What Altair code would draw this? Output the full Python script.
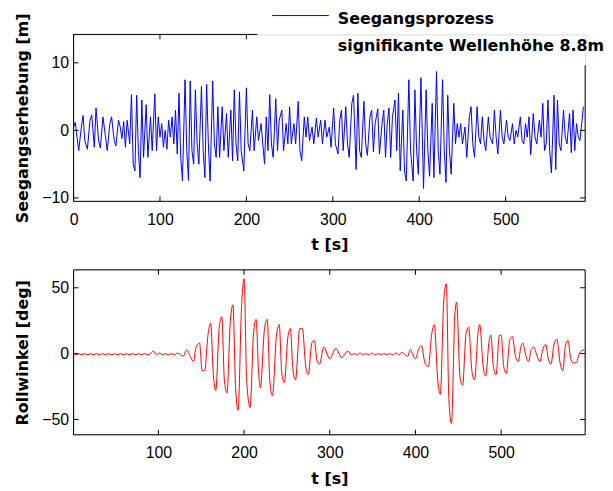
import altair as alt

# ---------------- data ----------------
wave_points = [
    (0, 0.5), (2, 1.2), (4, -1), (6, -3), (9, 0.5), (11, 2.2), (13, -1.5), (16, -2.8), (19, 1.5), (21, 2.3),
    (24, -2.5), (26, 3.3), (29, -1.5), (31, -2.6), (34, 2.0), (37, -1), (39, -3), (42, 1.0), (44, 2.0), (47, -1.5),
    (49, -2.3), (52, 1.5), (54, 0.5), (56, -1.2), (58, 1.3), (60, -2.5), (62, 1.5),
    (65, -2), (67, 5.3), (69, -5), (71, -6), (73, 5.2), (75, -3), (77, -7), (79, 4.5), (81, -4), (84, 3.8),
    (86, -4), (89, 2), (91, -3), (94, 5.4), (96, -3),
    (98, 2), (100, -1), (102, 1), (104, -2.5), (106, 0), (108, -2.8), (110, 1.5), (112, -1), (114, 2), (116, -2),
    (118, 3), (120, -3.5),
    (122, 5.5), (124, -4), (126, -7.5), (129, 7.5), (131, -3), (133, -7.4), (135, 7.3), (137, -3), (139, -5),
    (141, 6), (143, -2), (145, -5), (148, 6.5), (150, -3), (152, -7), (154, 6.8), (156, -2), (158, -7.5),
    (161, 7.3), (163, -2), (165, -4), (167, 3.5),
    (169, -4), (172, 3.5), (174, -3), (177, 2.5), (179, -4), (182, 3), (184, -4.5), (186, 6), (188, -2),
    (190, -4.5), (192, 5.7), (194, -3), (197, -6), (200, 6.3), (202, -2), (204, -3), (207, 3), (209, -3),
    (212, 2), (214, -1.5), (217, 1), (219, -2), (221, -5),
    (223, 2), (225, -3), (227, 5.3), (229, -2), (231, -4), (234, 4.7), (236, -3), (238, 1.5), (241, 3),
    (243, -3), (246, 1), (248, -2), (250, 3.5), (252, -2), (255, 1), (257, -2), (260, 4.3), (262, -3),
    (264, -4.5), (267, 2),
    (269, -1), (271, 2), (273, -1.5), (276, 0.5), (278, -2), (281, 1.8), (283, -1), (286, 1.5), (288, -2),
    (291, 1.5), (293, -1), (296, 0.5), (298, -2.5),
    (301, 3.3), (303, -2), (306, -3.5), (308, 1.5), (310, 3), (312, -3), (315, 3.5), (317, -2), (319, -4),
    (322, 4), (324, 5.2), (327, -5.8), (329, 5.5), (331, -3), (333, -4), (336, 4.3), (338, -2), (340, -3.7),
    (343, 2), (345, 3), (347, -3.2), (349, 1), (352, 3.2), (354, -3.5),
    (357, 1), (359, 3), (361, -4), (363, 1), (365, 3.3), (367, -4), (369, 2), (372, 4.5), (374, -3),
    (376, 5.5), (378, -6), (381, 3), (383, -6), (385, -7.5), (388, 7.5), (390, -3), (393, -7.5), (395, 6),
    (397, -3), (399, -6.5), (402, 7.8), (404, -3), (405, -8.6), (408, 6), (410, -3), (412, -6.8), (415, 4),
    (417, -7), (420, 8.7), (422, -3), (424, -6.5), (427, 7.5), (429, -3), (431, -7.7), (433, 5.2), (435, -3),
    (437, -6.5), (440, 4), (442, -2),
    (444, 1), (446, -1), (448, 1), (450, -2), (453, 0.5), (455, -4), (458, 2), (460, 3.5), (462, -2),
    (464, -4), (467, 3.5), (469, -1), (471, -2), (473, 2), (475, -1.5), (477, -3), (480, 2), (482, -1),
    (485, -2), (487, 3), (489, -1), (491, -3.5), (494, 3), (496, -1), (498, -2), (501, 1.5), (503, -1),
    (505, -1.5), (508, 1), (510, -2), (512, 0), (514, -1), (517, 2), (519, -1.5), (521, -2), (523, 1),
    (525, -1), (527, 2), (529, -3.6), (532, 2.5), (534, -1), (536, -2), (539, 1.5), (541, -1), (543, 4),
    (545, -3), (547, -2), (549, 4.5), (551, -3), (553, -6.3), (556, 5.2), (558, -5.8), (560, 4.5), (562, -2),
    (564, -3), (567, 3), (569, -1), (571, -2), (574, 2.5), (576, -3.3), (578, 3), (580, -3), (582, 1),
    (584, -1), (586, -1.5), (588, 1), (590, 3.5),
]

roll_points = [
    (1, 1), (3, -1), (7, 0), (10, -1), (14, 0), (17, -1), (21, 0), (24, -1), (28, 0), (31, -1), (35, 0),
    (38, -1), (42, 0), (45, -1), (49, 0), (52, -1), (56, 0), (59, -1), (63, 0), (66, -1), (70, 0), (73, -1),
    (77, 0), (80, -1), (84, 0), (87, -1), (91, 0), (94, 2), (98, -1), (101, 0.5), (105, -1), (108, 0),
    (112, -1), (115, 0), (119, -1), (122, 0.5), (126, -1), (129, -2), (133, 3), (137, -2), (141, -6),
    (144, 5), (148, 8), (151, -13), (154, -13), (158, 15), (161, 23), (164, -15), (167, -28), (171, 20),
    (174, 28), (177, -20), (180, -30), (184, 25), (187, 37), (190, -25), (193, -43), (197, 35), (200, 57),
    (203, -20), (207, -41), (211, 15), (214, 26), (217, -15), (219, -26), (224, 20), (227, 26), (230, -20),
    (233, -32), (238, 15), (241, 22), (244, -15), (247, -22), (251, 12), (254, 19), (257, -12), (260, -20),
    (265, 19), (268, 19), (272, -10), (275, -16), (279, 8), (282, 10), (285, -5), (288, -8), (293, 5),
    (300, -4), (307, 4), (314, -3), (321, 2), (325, -1), (328, 0), (332, -1), (335, 0.5), (339, -1),
    (342, 0), (346, -1), (349, 0.5), (353, -1), (356, 0), (360, -1), (363, 0), (367, -1), (370, 0),
    (374, -1), (377, 0.5), (381, -1), (384, 1), (388, -1), (391, -2), (394, 3), (397, -1), (400, -4),
    (404, 4), (407, 6), (411, -7), (415, -10), (419, 15), (422, 22), (426, -20), (429, -31), (433, 40),
    (436, 53), (439, -35), (442, -53), (446, 30), (448, 39), (452, -18), (455, -24), (459, 15), (462, 20),
    (466, -14), (469, -20), (473, 16), (475, 22), (479, -10), (482, -17), (486, 10), (488, 14), (491, -10),
    (494, -16), (498, 14), (500, 14), (503, -10), (506, -15), (510, 10), (513, 13), (517, -3), (520, -6),
    (523, 5), (525, 8), (529, -2), (532, -6), (535, 3), (538, 5), (542, -2), (545, -6), (549, 4), (552, 7),
    (555, -4), (558, -8), (562, 8), (565, 11), (569, -8), (572, -13), (575, 6), (578, 10), (581, -3),
    (584, -7), (588, -7), (591, 0), (597, 3),
]

top_xticks = [0, 100, 200, 300, 400, 500]
top_yticks = [-10, 0, 10]
bottom_xticks = [100, 200, 300, 400, 500]
bottom_yticks = [-50, 0, 50]

top_domain_x = [0, 592]
top_domain_y = [-10.5, 14.2]
bottom_domain_x = [1, 598]
bottom_domain_y = [-61.6, 63.6]

legend_line1 = "Seegangsprozess"
legend_line2 = "signifikante Wellenhöhe 8.8m"

# ---------------- layout constants ----------------
W = 515
H1 = 168
H2 = 166
TICK = 5
LEG_BOX_X = 185   # where the legend box hides the top frame
LEG_BOX_Y = 31    # where the right frame starts below the legend box

LABEL_FONT = "Liberation Sans"
TITLE_FONT = "DejaVu Sans"


def panel(points, dom_x, dom_y, xticks, yticks, ytitle, color, interp, H, legend=False):
    data = alt.Data(values=[{"t": t, "v": v} for t, v in points])
    sx = alt.Scale(domain=dom_x, nice=False, zero=False)
    sy = alt.Scale(domain=dom_y, nice=False, zero=False)

    axis_common = dict(
        ticks=False, tickSize=0, domain=False, grid=False,
        labelFont=LABEL_FONT, labelFontSize=16, labelColor="black",
        titleFont=TITLE_FONT, titleFontSize=16, titleFontWeight="bold", titleColor="black",
    )
    ax_x = alt.Axis(values=xticks, title="t [s]", labelPadding=10, titlePadding=10,
                    labelFlush=False, **axis_common)
    ax_y = alt.Axis(values=yticks, title=ytitle, labelPadding=5, titlePadding=11, **axis_common)

    def X(field="t"):
        return alt.X(f"{field}:Q", scale=sx, axis=ax_x, title="t [s]")

    def Y(field="v"):
        return alt.Y(f"{field}:Q", scale=sy, axis=ax_y, title=ytitle)

    line = alt.Chart(data).mark_line(color=color, strokeWidth=1, interpolate=interp).encode(
        x=X(), y=Y())

    one = alt.Data(values=[{"k": 1}])
    right_top = LEG_BOX_Y if legend else 0
    top_end = LEG_BOX_X if legend else W
    frame = [
        alt.Chart(one).mark_rule(color="black", strokeWidth=1).encode(
            x=alt.value(0), y=alt.value(0), y2=alt.value(H)),
        alt.Chart(one).mark_rule(color="black", strokeWidth=1).encode(
            x=alt.value(0), x2=alt.value(W), y=alt.value(H)),
        alt.Chart(one).mark_rule(color="black", strokeWidth=1).encode(
            x=alt.value(W), y=alt.value(right_top), y2=alt.value(H)),
        alt.Chart(one).mark_rule(color="black", strokeWidth=1).encode(
            x=alt.value(0), x2=alt.value(top_end), y=alt.value(0)),
    ]

    xt = alt.Data(values=[{"t": t} for t in xticks])
    yt = alt.Data(values=[{"v": v} for v in yticks])
    ticks = [
        alt.Chart(xt).mark_rule(color="black").encode(
            x=X(), y=alt.value(H), y2=alt.value(H - TICK)),
        alt.Chart(yt).mark_rule(color="black").encode(
            y=Y(), x=alt.value(0), x2=alt.value(TICK)),
    ]
    top_t = alt.Chart(xt).mark_rule(color="black").encode(
        x=X(), y=alt.value(0), y2=alt.value(TICK))
    right_t = alt.Chart(yt).mark_rule(color="black").encode(
        y=Y(), x=alt.value(W), x2=alt.value(W - TICK))
    if legend:
        top_t = top_t.transform_filter(alt.datum.t < 250)
        right_t = right_t.transform_filter(alt.datum.v < 8)
    ticks += [top_t, right_t]

    layers = [line] + frame + ticks
    if legend:
        layers += [
            alt.Chart(one).mark_rule(color=color, strokeWidth=1).encode(
                x=alt.value(200), x2=alt.value(257), y=alt.value(-19)),
            alt.Chart(one).mark_text(align="left", baseline="alphabetic", font=TITLE_FONT,
                                     fontSize=16, fontWeight="bold", color="black",
                                     text=legend_line1).encode(
                x=alt.value(266), y=alt.value(-11)),
            alt.Chart(one).mark_text(align="left", baseline="alphabetic", font=TITLE_FONT,
                                     fontSize=16, fontWeight="bold", color="black",
                                     text=legend_line2).encode(
                x=alt.value(266), y=alt.value(17)),
        ]
    return alt.layer(*layers).properties(width=W, height=H)


top = panel(wave_points, top_domain_x, top_domain_y, top_xticks, top_yticks,
            "Seegangserhebung [m]", "#0000FF", "linear", H1, legend=True)
bottom = panel(roll_points, bottom_domain_x, bottom_domain_y, bottom_xticks, bottom_yticks,
               "Rollwinkel [deg]", "#FF0000", "monotone", H2)

chart = alt.vconcat(top, bottom, spacing=15).properties(
    padding={"left": 6, "top": 0, "right": 0, "bottom": 0}
).configure_view(stroke=None).configure(background="white")

chart.save("out.html", embed_options={"renderer": "svg", "actions": False})
